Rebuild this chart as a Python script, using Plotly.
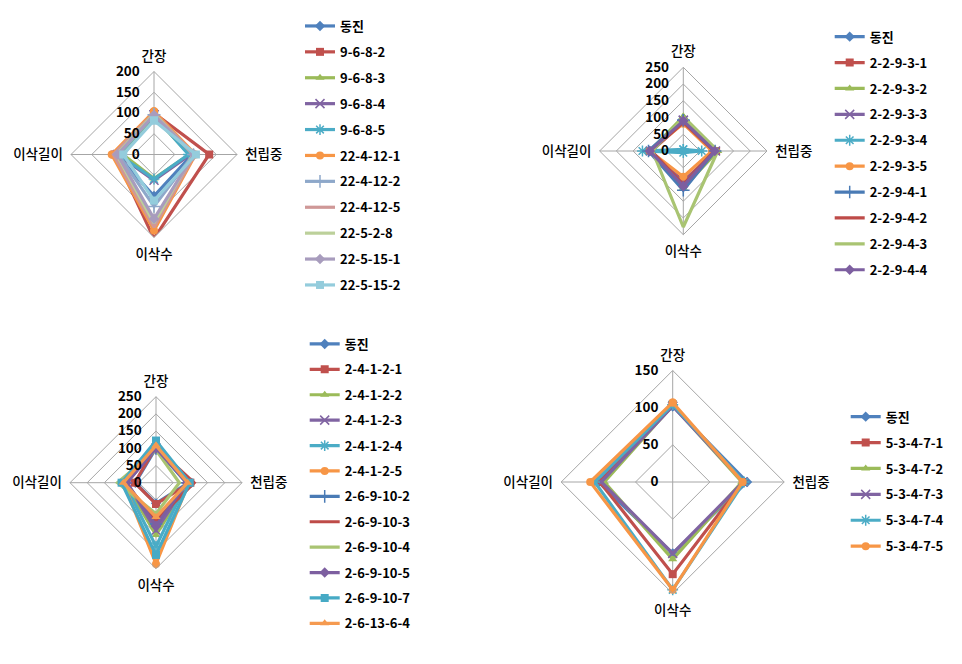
import plotly.graph_objects as go

categories = ['간장', '천립중', '이삭수', '이삭길이']

# ---- Chart 1 ----
names_c1 = ['동진', '9-6-8-2', '9-6-8-3', '9-6-8-4', '9-6-8-5', '22-4-12-1',
            '22-4-12-2', '22-4-12-5', '22-5-2-8', '22-5-15-1', '22-5-15-2']
c1_ganjang  = [95, 100, 92, 96, 94, 104, 96, 100, 98, 95, 82]
c1_cheonrip = [92, 133, 85, 88, 83, 100, 95, 98, 94, 96, 101]
c1_isaksu   = [100, 203, 58, 62, 59, 183, 125, 175, 165, 155, 111]
c1_gili     = [90, 95, 75, 88, 85, 102, 86, 98, 90, 88, 74]

# ---- Chart 2 ----
names_c2 = ['동진', '2-2-9-3-1', '2-2-9-3-2', '2-2-9-3-3', '2-2-9-3-4', '2-2-9-3-5',
            '2-2-9-4-1', '2-2-9-4-2', '2-2-9-4-3', '2-2-9-4-4']
c2_ganjang  = [95, 85, 103, 92, 5, 82, 92, 86, 100, 90]
c2_cheonrip = [95, 98, 103, 96, 55, 86, 95, 92, 103, 94]
c2_isaksu   = [100, 90, 110, 95, 5, 77, 117, 100, 227, 105]
c2_gili     = [100, 102, 100, 98, 122, 100, 104, 95, 92, 100]

# ---- Chart 3 ----
names_c3 = ['동진', '2-4-1-2-1', '2-4-1-2-2', '2-4-1-2-3', '2-4-1-2-4', '2-4-1-2-5',
            '2-6-9-10-2', '2-6-9-10-3', '2-6-9-10-4', '2-6-9-10-5', '2-6-9-10-7', '2-6-13-6-4']
c3_ganjang  = [100, 105, 108, 100, 105, 110, 100, 102, 95, 100, 122, 108]
c3_cheonrip = [95, 100, 95, 92, 90, 95, 88, 111, 68, 90, 98, 92]
c3_isaksu   = [60, 62, 152, 138, 185, 236, 120, 110, 90, 125, 210, 100]
c3_gili     = [60, 62, 90, 85, 92, 95, 88, 90, 112, 85, 100, 95]

# ---- Chart 4 ----
names_c4 = ['동진', '5-3-4-7-1', '5-3-4-7-2', '5-3-4-7-3', '5-3-4-7-4', '5-3-4-7-5']
c4_ganjang  = [102, 104, 103, 102, 104, 107]
c4_cheonrip = [100, 95, 93, 95, 96, 94]
c4_isaksu   = [96, 124, 104, 96, 145, 145]
c4_gili     = [100, 98, 92, 96, 105, 111]

# ---- styles ----
base_colors = ['#4F81BD', '#C0504D', '#9BBB59', '#8064A2', '#4BACC6', '#F79646']
light_colors = ['#8EA8CA', '#CF9897', '#BCD09A', '#A89CBD', '#94CCDC', '#F7B27E']
dark_colors = ['#4A7BB5', '#BE4B48', '#A9C472', '#7D5FA0', '#46AAC5', '#F59A50']
symbols = ['diamond', 'square', 'triangle-up', 'x-thin-open', 'asterisk-open', 'circle',
           'cross-thin-open', None, None, 'diamond', 'square', 'triangle-up']

FONT = 'Noto Sans CJK KR'

fig = go.Figure()


def add_chart(names, g, c, s, l, polar_id, legend_id, palette_extra):
    for i, nm in enumerate(names):
        col = base_colors[i] if i < 6 else palette_extra[i - 6]
        sym = symbols[i]
        r = [g[i], c[i], s[i], l[i], g[i]]
        th = categories + [categories[0]]
        kw = dict(r=r, theta=th, name=nm, subplot=polar_id, legend=legend_id,
                  legendgroup=polar_id + nm,
                  line=dict(color=col, width=3.2))
        if sym is None:
            kw['mode'] = 'lines'
        else:
            kw['mode'] = 'lines+markers'
            if sym in ('x-thin-open', 'asterisk-open', 'cross-thin-open'):
                kw['marker'] = dict(symbol=sym, size=9, color=col, line=dict(color=col, width=1.5))
            else:
                kw['marker'] = dict(symbol=sym, size=8, color=col)
        fig.add_trace(go.Scatterpolar(**kw))


add_chart(names_c1, c1_ganjang, c1_cheonrip, c1_isaksu, c1_gili, 'polar', 'legend', light_colors)
add_chart(names_c2, c2_ganjang, c2_cheonrip, c2_isaksu, c2_gili, 'polar2', 'legend2', dark_colors)
add_chart(names_c3, c3_ganjang, c3_cheonrip, c3_isaksu, c3_gili, 'polar3', 'legend3', dark_colors)
add_chart(names_c4, c4_ganjang, c4_cheonrip, c4_isaksu, c4_gili, 'polar4', 'legend4', dark_colors)

W, H = 962, 664


def polar(cx, cy, rad, rmax, dtick):
    return dict(
        domain=dict(x=[(cx - rad) / W, (cx + rad) / W], y=[1 - (cy + rad) / H, 1 - (cy - rad) / H]),
        gridshape='linear', bgcolor='white',
        radialaxis=dict(range=[0, rmax], dtick=dtick, angle=90, tickangle=90,
                        side='counterclockwise', showline=False,
                        ticks='outside', ticklen=9, tickcolor='rgba(0,0,0,0)',
                        gridcolor='#A6A6A6', gridwidth=1,
                        tickfont=dict(family=FONT, size=13.5, color='black', weight=600)),
        angularaxis=dict(direction='clockwise', rotation=90, showline=True,
                         linecolor='#A6A6A6', linewidth=1, gridcolor='#A6A6A6',
                         ticks='outside', ticklen=5, tickcolor='rgba(0,0,0,0)',
                         tickfont=dict(family=FONT, size=13.5, color='black', weight=500)),
    )


def legend(tx, ty, gap):
    return dict(x=(tx - 42) / W, y=1 - (ty - 15) / H, xanchor='left', yanchor='top',
                bgcolor='rgba(0,0,0,0)', tracegroupgap=gap,
                font=dict(family=FONT, size=13, color='black', weight='bold'))


fig.update_layout(
    width=W, height=H, margin=dict(l=0, r=0, t=0, b=0),
    paper_bgcolor='white', plot_bgcolor='white',
    polar=polar(154, 154.5, 83, 200, 50),
    polar2=polar(683.3, 151, 83.7, 250, 50),
    polar3=polar(156, 482.7, 86, 250, 50),
    polar4=polar(672.7, 482, 111.5, 150, 50),
    legend=legend(342, 26, 6),
    legend2=legend(871.7, 36.7, 6),
    legend3=legend(346.7, 344, 5.5),
    legend4=legend(887.7, 416.7, 6),
)

fig.write_html('out.html')
